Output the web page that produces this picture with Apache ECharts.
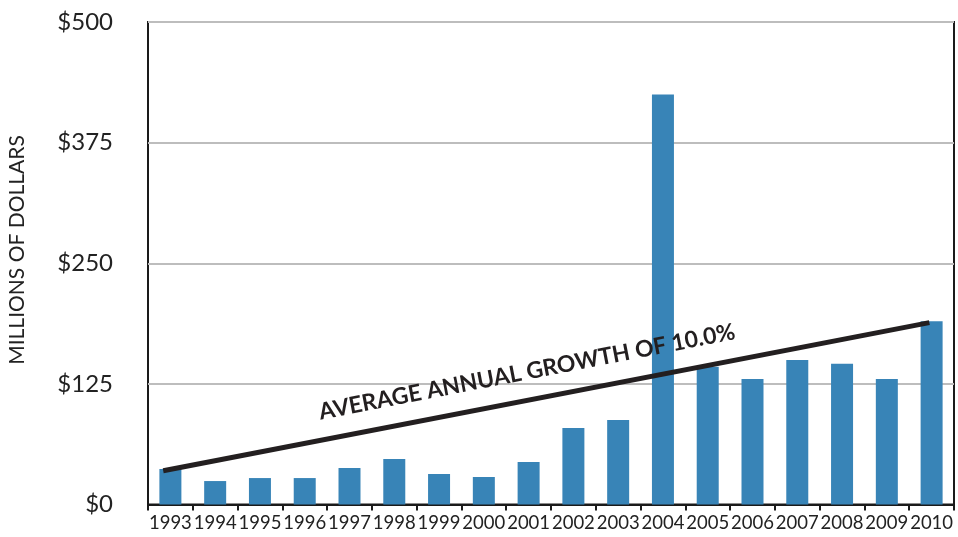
<!DOCTYPE html>
<html>
<head>
<meta charset="utf-8">
<script src="https://cdn.jsdelivr.net/npm/echarts@6/dist/echarts.min.js"></script>
<style>
html,body{margin:0;padding:0;background:#fff;}
#chart{width:958px;height:537px;}
</style>
</head>
<body>
<div id="chart"></div>
<script>
const years = ['1993','1994','1995','1996','1997','1998','1999','2000','2001','2002','2003','2004','2005','2006','2007','2008','2009','2010'];
const values = [36.8, 24.3, 27.4, 27.4, 37.8, 47.1, 31.6, 28.5, 44, 79.2, 87.5, 425, 142.7, 130, 149.7, 145.8, 130, 190];
const trendX = [-0.16, 16.95];
const trendY = [35, 188.5];
const yTicks = [0, 125, 250, 375, 500];
const trendLabel = 'AVERAGE ANNUAL GROWTH OF 10.0%';
const yTitle = 'MILLIONS OF DOLLARS';

const trend = trendX.map((x, i) => [x, trendY[i]]);

const chart = echarts.init(document.getElementById('chart'));
chart.setOption({
  animation: false,
  textStyle: { fontFamily: 'Lato' },
  grid: { left: 148, right: 4, top: 22, bottom: 32.5, containLabel: false, outerBoundsMode: 'none', show: true, borderColor: '#1a1a1a', borderWidth: 2, backgroundColor: 'transparent' },
  xAxis: [{
    type: 'category',
    data: years,
    boundaryGap: true,
    axisLine: { lineStyle: { color: '#1a1a1a', width: 2 } },
    axisTick: { show: true, length: 6, lineStyle: { color: '#1a1a1a', width: 2 } },
    axisLabel: { color: '#222', fontSize: 18.5, fontFamily: 'Lato', margin: 9, interval: 0 }
  }, {
    type: 'value',
    min: -0.5, max: years.length - 0.5,
    show: false
  }],
  yAxis: {
    type: 'value',
    min: 0, max: 500, interval: 125,
    axisLine: { show: false },
    axisTick: { show: false },
    axisLabel: { color: '#222', fontSize: 24, fontFamily: 'Lato', margin: 35, formatter: v => yTicks.indexOf(v) >= 0 ? '$' + v : '' },
    splitLine: { show: true, lineStyle: { color: '#bdbdbd', width: 2 } }
  },
  series: [
    {
      type: 'bar',
      data: values,
      barWidth: 22,
      itemStyle: { color: '#3884b7' },
      z: 2
    },
    {
      type: 'line',
      xAxisIndex: 1,
      data: trend,
      symbol: 'none',
      lineStyle: { color: '#231f20', width: 5 },
      z: 3
    }
  ],
  graphic: [
    {
      type: 'text',
      x: 17, y: 250,
      rotation: Math.PI / 2,
      style: {
        text: yTitle,
        fill: '#222',
        font: '21px Lato',
        align: 'center',
        verticalAlign: 'middle'
      }
    },
    {
      type: 'text',
      x: 527, y: 372,
      rotation: 11 * Math.PI / 180,
      style: {
        text: trendLabel,
        fill: '#231f20',
        font: 'bold 23px Lato',
        align: 'center',
        verticalAlign: 'middle'
      },
      z: 10
    }
  ]
});
</script>
</body>
</html>
